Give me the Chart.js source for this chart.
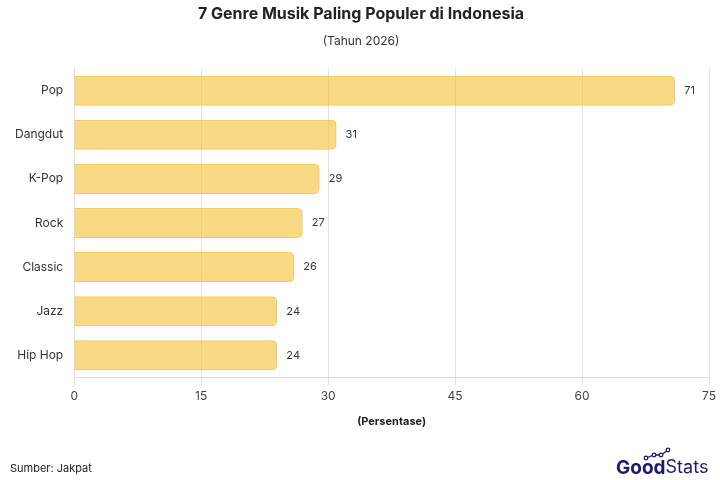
<!DOCTYPE html>
<html><head><meta charset="utf-8">
<script src="https://cdn.jsdelivr.net/npm/chart.js@4"></script>
<style>html,body{margin:0;padding:0;background:#fff}#wrap{width:720px;height:480px;position:relative}</style>
</head><body>
<div id="wrap"><canvas id="c" width="720" height="480"></canvas></div>
<script>
const categories = ["Pop","Dangdut","K-Pop","Rock","Classic","Jazz","Hip Hop"];
const values = [71,31,29,27,26,24,24];
const xTicks = [0,15,30,45,60,75];
const FONT = "Inter, 'Noto Sans', sans-serif";

const labelPlugin = {
  id: 'valLabels',
  afterDatasetsDraw(chart){
    const ctx = chart.ctx;
    const meta = chart.getDatasetMeta(0);
    ctx.save();
    ctx.font = "11px " + FONT;
    ctx.fillStyle = "#333";
    ctx.textBaseline = "middle";
    ctx.textAlign = "left";
    meta.data.forEach((bar,i)=>{
      ctx.fillText(String(values[i]), bar.x + 9, bar.y);
    });
    ctx.restore();
  }
};
const footerPlugin = {
  id: 'footer',
  afterDraw(chart){
    const ctx = chart.ctx;
    ctx.save();
    ctx.font = "11px " + FONT;
    ctx.fillStyle = "#222";
    ctx.textBaseline = "middle";
    ctx.textAlign = "left";
    ctx.fillText("Sumber: Jakpat", 10, 469);
    ctx.fillStyle = "#1e1b6e";
    ctx.font = "bold 19px " + FONT;
    const gx = 616;
    ctx.fillText("Good", gx, 468);
    const gw = ctx.measureText("Good").width;
    ctx.font = "18px " + FONT;
    ctx.fillText("Stats", gx + gw, 468);
    ctx.strokeStyle = "#1e1b6e";
    ctx.lineWidth = 1.3;
    const pts = [[646,458],[654,455],[661,455],[668,450]];
    ctx.beginPath();
    pts.forEach((p,i)=> i? ctx.lineTo(p[0],p[1]) : ctx.moveTo(p[0],p[1]));
    ctx.stroke();
    ctx.fillStyle = "#fff";
    pts.forEach(p=>{ctx.beginPath();ctx.arc(p[0],p[1],1.8,0,Math.PI*2);ctx.fill();ctx.stroke();});
    ctx.restore();
  }
};

new Chart(document.getElementById('c'), {
  type: 'bar',
  data: {
    labels: categories,
    datasets: [{
      data: values,
      backgroundColor: 'rgba(248,196,66,0.65)',
      borderColor: 'rgba(245,190,50,0.8)',
      borderWidth: 1.5,
      borderRadius: 5,
      borderSkipped: 'left',
      barPercentage: 0.85,
      categoryPercentage: 0.8
    }]
  },
  options: {
    indexAxis: 'y',
    responsive: false,
    animation: false,
    layout: { padding: { left: 12, right: 10, top: 0, bottom: 48 } },
    plugins: {
      legend: { display: false },
      tooltip: { enabled: false },
      title: { display: true, text: '7 Genre Musik Paling Populer di Indonesia', color: '#222',
        font: { family: FONT, size: 16, weight: 'bold' }, padding: { top: 5, bottom: 10 } },
      subtitle: { display: true, text: '(Tahun 2026)', color: '#333',
        font: { family: FONT, size: 12 }, padding: { bottom: 20 } }
    },
    scales: {
      x: {
        min: 0, max: 75,
        afterBuildTicks(axis){ axis.ticks = xTicks.map(v=>({value:v})); },
        grid: { color: '#e2e2e2', drawTicks: true, tickLength: 8 },
        border: { color: '#dcdcdc' },
        ticks: { color: '#444', font: { family: FONT, size: 12 }, padding: 4 },
        title: { display: true, text: '(Persentase)', color: '#222',
          font: { family: FONT, size: 11, weight: 'bold' }, padding: { top: 7 } }
      },
      y: {
        grid: { display: false },
        border: { color: '#dcdcdc' },
        ticks: { color: '#333', font: { family: FONT, size: 12 }, padding: 3 }
      }
    }
  },
  plugins: [labelPlugin, footerPlugin]
});
</script>
</body></html>
